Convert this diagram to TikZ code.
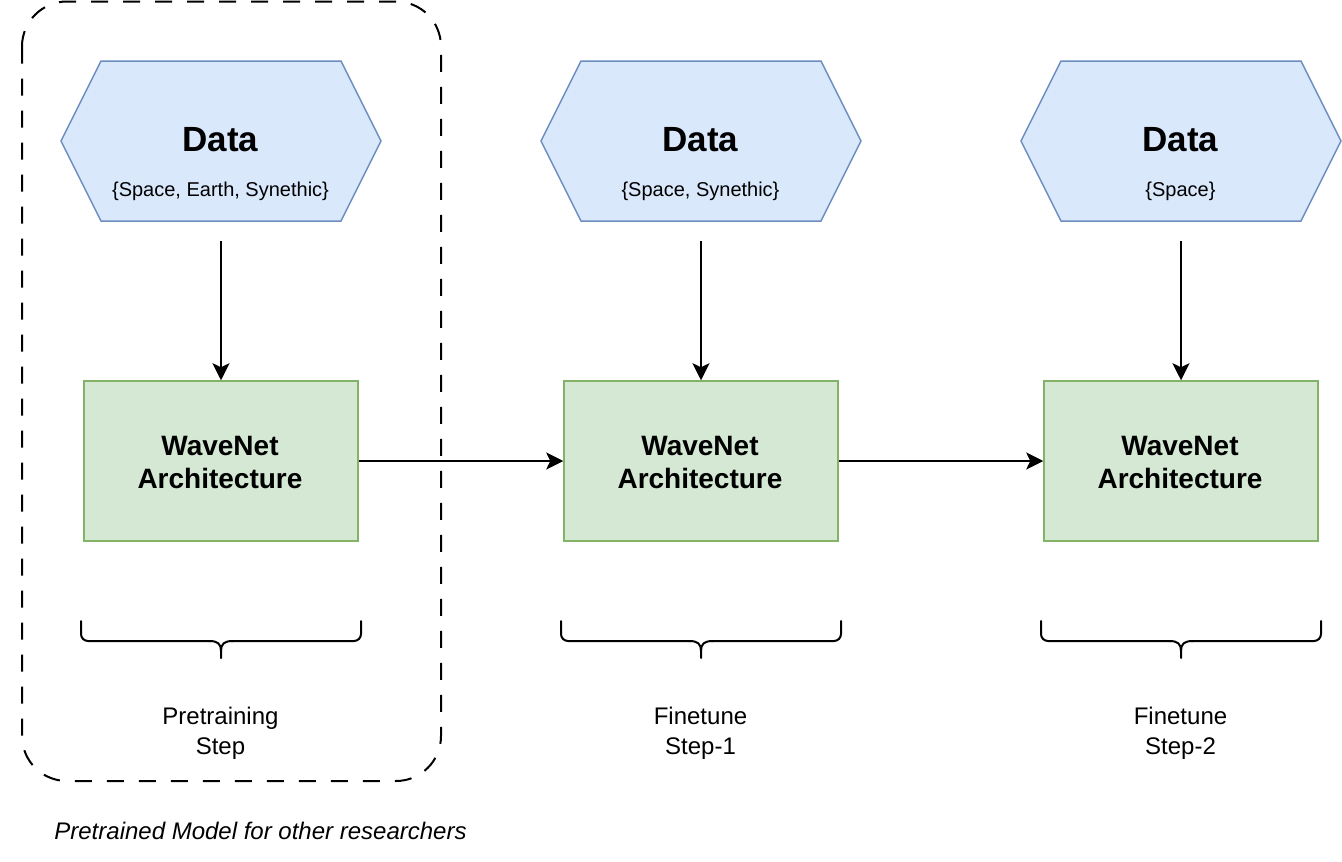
\documentclass[tikz,border=0pt]{standalone}
\usepackage{fontspec}
\setmainfont{Liberation Sans}
\usetikzlibrary{arrows.meta,calc}
\definecolor{hexfill}{HTML}{DAE8FC}
\definecolor{hexdraw}{HTML}{6C8EBF}
\definecolor{boxfill}{HTML}{D5E8D4}
\definecolor{boxdraw}{HTML}{82B366}
\tikzset{
  hexbox/.style={minimum width=320pt, minimum height=160pt, inner sep=0pt, outer sep=0pt},
  hexline/.style={draw=hexdraw, fill=hexfill, line width=1.5pt, line join=miter},
  netbox/.style={draw=boxdraw, fill=boxfill, line width=1.5pt, minimum width=274pt, minimum height=160pt,
    inner sep=0pt, align=center, font=\fontsize{28}{33}\selectfont\bfseries},
  datatitle/.style={font=\fontsize{35}{40}\selectfont\bfseries, inner sep=0pt},
  datasub/.style={font=\fontsize{20}{24}\selectfont, inner sep=0pt},
  steplabel/.style={font=\fontsize{24}{30}\selectfont, align=center, inner sep=0pt},
  arr/.style={line width=2pt, -{Stealth[length=17pt,width=17pt,inset=4pt]}},
  brc/.style={line width=2pt, line cap=round},
  dashbox/.style={line width=2pt, dash pattern=on 17pt off 15pt, rounded corners=45pt}
}
\begin{document}
\begin{tikzpicture}[x=1pt,y=-1pt]
\useasboundingbox (0,0) rectangle (1342,862);

% dashed group
\draw[dashbox] (22,1.5) rectangle (441,781);

\foreach \i/\cx/\sub/\stepA/\stepB in {1/221/{\{Space, Earth, Synethic\}}/Pretraining/Step,
                                   2/701/{\{Space, Synethic\}}/Finetune/Step-1,
                                   3/1181/{\{Space\}}/Finetune/Step-2}{
  \node[hexbox] (h\i) at (\cx,141) {};
  \draw[hexline] (h\i.west) -- ([xshift=40pt]h\i.north west) -- ([xshift=-40pt]h\i.north east)
     -- (h\i.east) -- ([xshift=-40pt]h\i.south east) -- ([xshift=40pt]h\i.south west) -- cycle;
  \node[datatitle] (dt\i) at (\cx-0.5,140) {Data};
  \node[datasub] (ds\i) at (\cx-0.5,191.5) {\sub};
  \node[netbox] (w\i) at (\cx,461) {};
  \node[netbox, draw=none, fill=none] (wt\i) at (\cx-1,462.5) {WaveNet\\Architecture};
  \coordinate (s\i) at ($(h\i.south)+(0,20)$);
  \draw[arr] (s\i) -- (w\i.north);
  % brace
  \draw[brc, rounded corners=7pt] (\cx-140,621) -- (\cx-140,641) -- (\cx-10,641);
  \draw[brc, rounded corners=7pt] (\cx+140,621) -- (\cx+140,641) -- (\cx+10,641);
  \draw[brc] (\cx-12,641) .. controls (\cx-3,641) and (\cx,644) .. (\cx,651) -- (\cx,658);
  \draw[brc] (\cx+12,641) .. controls (\cx+3,641) and (\cx,644) .. (\cx,651);
  \node[steplabel] (l\i) at (\cx-0.5,733) {\stepA\\\stepB};
}

\draw[arr] (w1.east) -- (w2.west);
\draw[arr] (w2.east) -- (w3.west);

\node[font=\fontsize{24}{30}\selectfont\itshape, inner sep=0pt] (note) at (260.5,831) {Pretrained Model for other researchers};
\end{tikzpicture}
\end{document}
